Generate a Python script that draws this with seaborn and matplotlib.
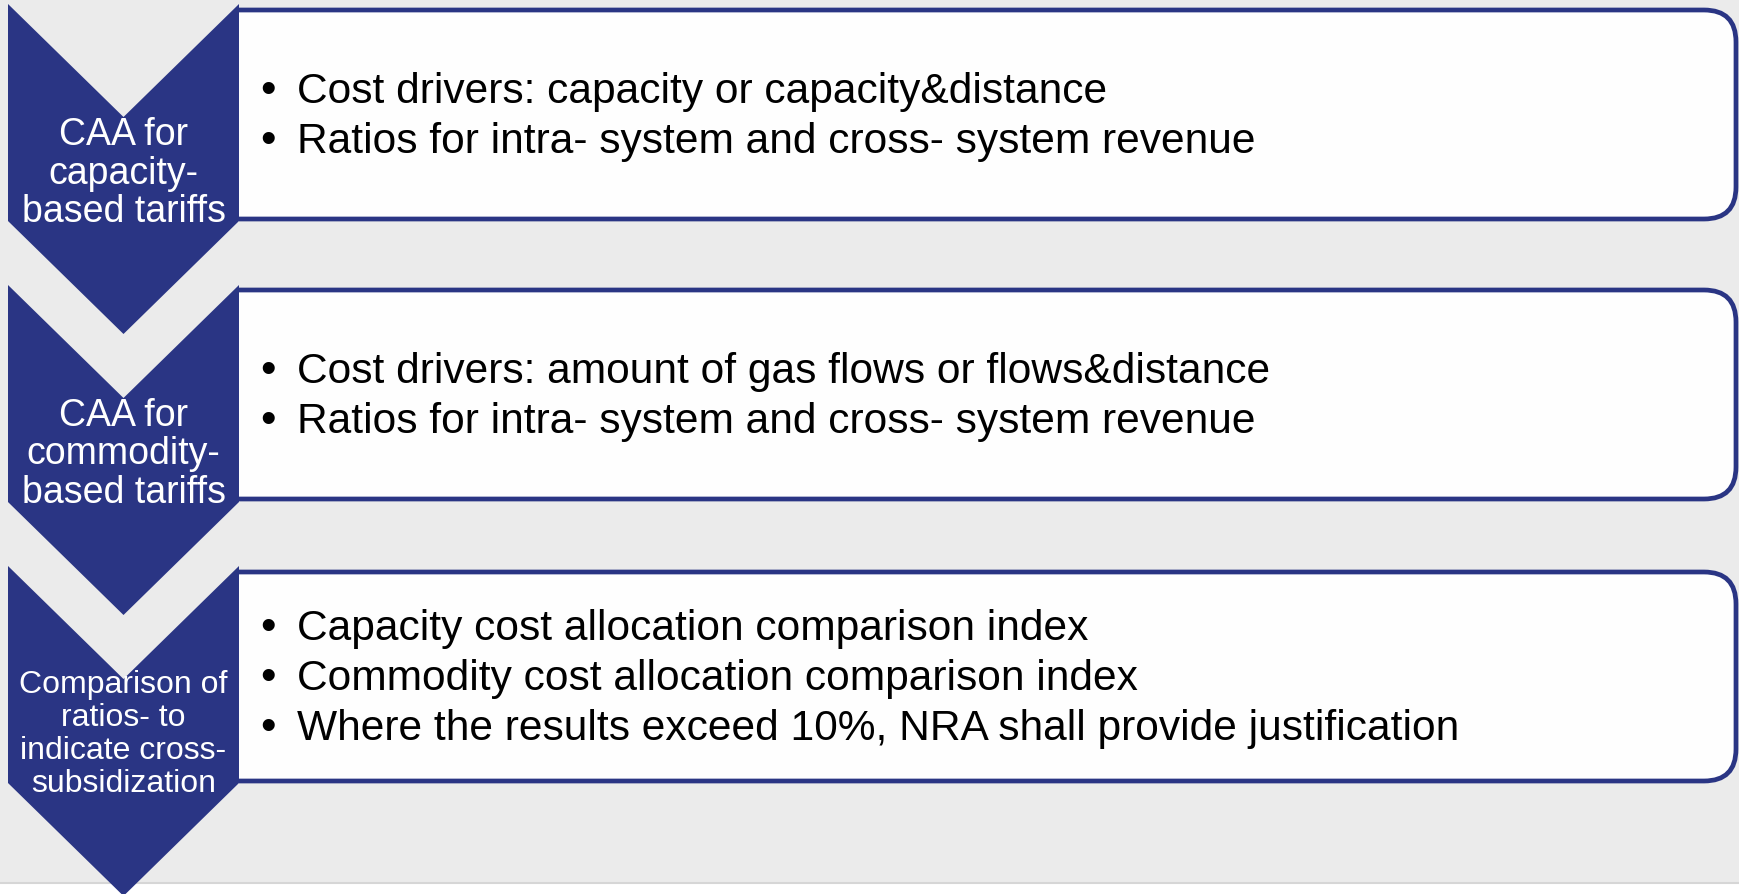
import matplotlib
matplotlib.use("Agg")
import matplotlib.pyplot as plt
from matplotlib.patches import Polygon, FancyBboxPatch, Rectangle
import seaborn as sns

# step labels (left chevrons), one line per entry
step_labels = [
    ["CAA for", "capacity-", "based tariffs"],
    ["CAA for", "commodity-", "based tariffs"],
    ["Comparison of", "ratios- to", "indicate cross-", "subsidization"],
]
# bullet points for each step
step_bullets = [
    ["Cost drivers: capacity or capacity&distance",
     "Ratios for intra- system and cross- system revenue"],
    ["Cost drivers: amount of gas flows or flows&distance",
     "Ratios for intra- system and cross- system revenue"],
    ["Capacity cost allocation comparison index",
     "Commodity cost allocation comparison index",
     "Where the results exceed 10%, NRA shall provide justification"],
]

BLUE = "#2A3584"
BG = "#EBEBEB"

sns.set_theme(style="white")
plt.rcParams["font.family"] = ["Liberation Sans", "DejaVu Sans"]

W, H = 1739, 895
fig = plt.figure(figsize=(W / 100, H / 100), dpi=100, facecolor=BG)
ax = fig.add_axes([0, 0, 1, 1])
ax.set_xlim(0, W)
ax.set_ylim(H, 0)
ax.axis("off")
ax.set_facecolor(BG)

# white strip at the bottom with a thin grey rule
ax.add_patch(Rectangle((0, 884), W, 20, facecolor="white", edgecolor="none", zorder=0))
ax.plot([0, W], [884, 884], color="#D6D6D6", lw=1.5, zorder=0.5)

chev_tops = [5, 286, 567]
box_tops = [11, 291, 573]
box_h = 209
x_left, x_mid, x_right = 8, 123.5, 239
notch, shoulder, point = 113, 217, 330

for i, (labels, bullets) in enumerate(zip(step_labels, step_bullets)):
    t = chev_tops[i]
    bt = box_tops[i]

    # rounded box, clipped so the left side starts at the chevron edge
    box = FancyBboxPatch((x_right - 60, bt), 1736 - (x_right - 60), box_h,
                         boxstyle="round,pad=0,rounding_size=32",
                         facecolor="#FEFEFE", edgecolor=BLUE, lw=3.4, zorder=1)
    ax.add_patch(box)
    clip = Rectangle((x_right, 0), W, H, transform=ax.transData)
    box.set_clip_path(clip)

    # chevron
    verts = [(x_left, t), (x_mid, t + notch), (x_right, t), (x_right, t + shoulder),
             (x_mid, t + point), (x_left, t + shoulder)]
    ax.add_patch(Polygon(verts, closed=True, facecolor=BLUE, edgecolor="none", zorder=3))

    # chevron label
    n = len(labels)
    if n == 3:
        fs, step, off = 27, 38.5, 178.5
    else:
        fs, step, off = 23, 33, 175.5
    for j, line in enumerate(labels):
        y = t + off + (j - (n - 1) / 2) * step
        ax.text(x_mid, y, line, color="white", fontsize=fs, ha="center",
                va="baseline", zorder=4)

    # bullet lines
    cy = bt + box_h / 2
    m = len(bullets)
    for j, line in enumerate(bullets):
        y = cy + 12.5 + (j - (m - 1) / 2) * 50
        ax.text(260, y, "\u2022", color="black", fontsize=32, ha="left",
                va="baseline", zorder=4)
        ax.text(297, y, line, color="black", fontsize=30.6, ha="left",
                va="baseline", zorder=4)

fig.savefig("out.png", dpi=100, facecolor=BG)
